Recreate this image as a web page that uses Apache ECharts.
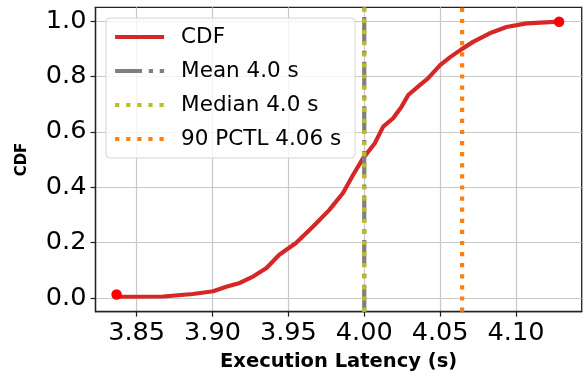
<!DOCTYPE html>
<html>
<head>
<meta charset="utf-8">
<script src="https://cdn.jsdelivr.net/npm/echarts@6/dist/echarts.min.js"></script>
<style>
html,body{margin:0;padding:0;background:#fff;}
#chart{width:587px;height:377px;}
</style>
</head>
<body>
<div id="chart"></div>
<script>
// ---- data ----
const cdfX = [3.8368, 3.8675, 3.887, 3.9005, 3.909, 3.918, 3.927, 3.9356, 3.944, 3.955, 3.9663, 3.977, 3.986, 3.9927, 3.9993, 4.007, 4.0125, 4.019, 4.0246, 4.029, 4.0366, 4.042, 4.05, 4.0564, 4.064, 4.0717, 4.0827, 4.0937, 4.107, 4.1284];
const cdfY = [0.004, 0.005, 0.014, 0.024, 0.040, 0.054, 0.078, 0.108, 0.156, 0.198, 0.258, 0.318, 0.379, 0.445, 0.505, 0.559, 0.619, 0.649, 0.691, 0.733, 0.769, 0.793, 0.841, 0.869, 0.898, 0.925, 0.956, 0.979, 0.992, 0.998];
const endX = [3.8368, 4.1284];
const endY = [0.012, 0.998];
const meanValue = 4.0;
const medianValue = 4.0;
const p90Value = 4.0645;
const legendNames = ['CDF', 'Mean 4.0 s', 'Median 4.0 s', '90 PCTL 4.06 s'];
const xTicks = [3.85, 3.90, 3.95, 4.00, 4.05, 4.10];
const yTicks = [0.0, 0.2, 0.4, 0.6, 0.8, 1.0];
const xRange = [3.8229, 4.1433];
const yRange = [-0.05, 1.05];
const xLabel = 'Execution Latency (s)';
const yLabel = 'CDF';

const font = 'DejaVu Sans';
const lw = 4.2;
const vline = v => [[v, yRange[0]], [v, yRange[1]]];

const chart = echarts.init(document.getElementById('chart'), null, {renderer: 'canvas'});
chart.setOption({
  animation: false,
  backgroundColor: '#fff',
  grid: {left: 95.5, right: 5.3, top: 7.3, bottom: 65.3, show: true, borderColor: '#222', borderWidth: 1.3, backgroundColor: 'transparent'},
  legend: {
    data: legendNames,
    orient: 'vertical',
    left: 106, top: 18,
    padding: [7, 14, 7, 7],
    itemWidth: 49, itemHeight: 14, itemGap: 10,
    backgroundColor: 'rgba(255,255,255,0.8)',
    borderColor: '#d4d4d4', borderWidth: 1, borderRadius: 4,
    itemStyle: {opacity: 0, borderWidth: 0},
    lineStyle: {width: 'inherit'},
    textStyle: {fontFamily: font, fontSize: 21.5, color: '#000', lineHeight: 24, padding: [0, 0, 0, 12]}
  },
  xAxis: {
    type: 'value', min: xRange[0], max: xRange[1],
    name: xLabel, nameLocation: 'middle', nameGap: 38,
    nameTextStyle: {fontFamily: font, fontSize: 19.5, fontWeight: 'bold', color: '#000'},
    axisLine: {show: true, onZero: false, lineStyle: {color: '#222', width: 1.3}},
    axisTick: {show: true, length: 5, customValues: xTicks, lineStyle: {color: '#222', width: 1.2}},
    axisLabel: {customValues: xTicks, formatter: v => v.toFixed(2), fontFamily: font, fontSize: 25.6, color: '#000', margin: 9},
    splitLine: {show: true, lineStyle: {color: '#c8c8c8', width: 1.2}}
  },
  yAxis: {
    type: 'value', min: yRange[0], max: yRange[1],
    name: yLabel, nameLocation: 'middle', nameGap: 66, nameRotate: 90,
    nameTextStyle: {fontFamily: font, fontSize: 15, fontWeight: 'bold', color: '#000'},
    axisLine: {show: true, onZero: false, lineStyle: {color: '#222', width: 1.3}},
    axisTick: {show: true, length: 5, customValues: yTicks, lineStyle: {color: '#222', width: 1.2}},
    axisLabel: {customValues: yTicks, formatter: v => v.toFixed(1), fontFamily: font, fontSize: 25.6, color: '#000', margin: 9},
    splitLine: {show: true, lineStyle: {color: '#c8c8c8', width: 1.2}}
  },
  series: [
    {name: legendNames[0], type: 'line', data: cdfX.map((x, i) => [x, cdfY[i]]), symbol: 'none', smooth: false,
     lineStyle: {color: '#d62728', width: lw}, itemStyle: {color: '#d62728'}},
    {name: legendNames[1], type: 'line', data: vline(meanValue), symbol: 'none',
     lineStyle: {color: '#7f7f7f', width: lw, type: [27, 6.7, 4.2, 6.7], cap: 'butt'}, itemStyle: {color: '#7f7f7f'}},
    {name: legendNames[2], type: 'line', data: vline(medianValue), symbol: 'none',
     lineStyle: {color: '#bcbd22', width: lw, type: [4.2, 6.9], cap: 'butt'}, itemStyle: {color: '#bcbd22'}},
    {name: legendNames[3], type: 'line', data: vline(p90Value), symbol: 'none',
     lineStyle: {color: '#ff7f0e', width: lw, type: [4.2, 6.9], cap: 'butt'}, itemStyle: {color: '#ff7f0e'}},
    {name: 'ends', type: 'scatter', data: endX.map((x, i) => [x, endY[i]]), symbolSize: 10.5,
     itemStyle: {color: '#ff0000', opacity: 1}, z: 5}
  ]
});
</script>
</body>
</html>
